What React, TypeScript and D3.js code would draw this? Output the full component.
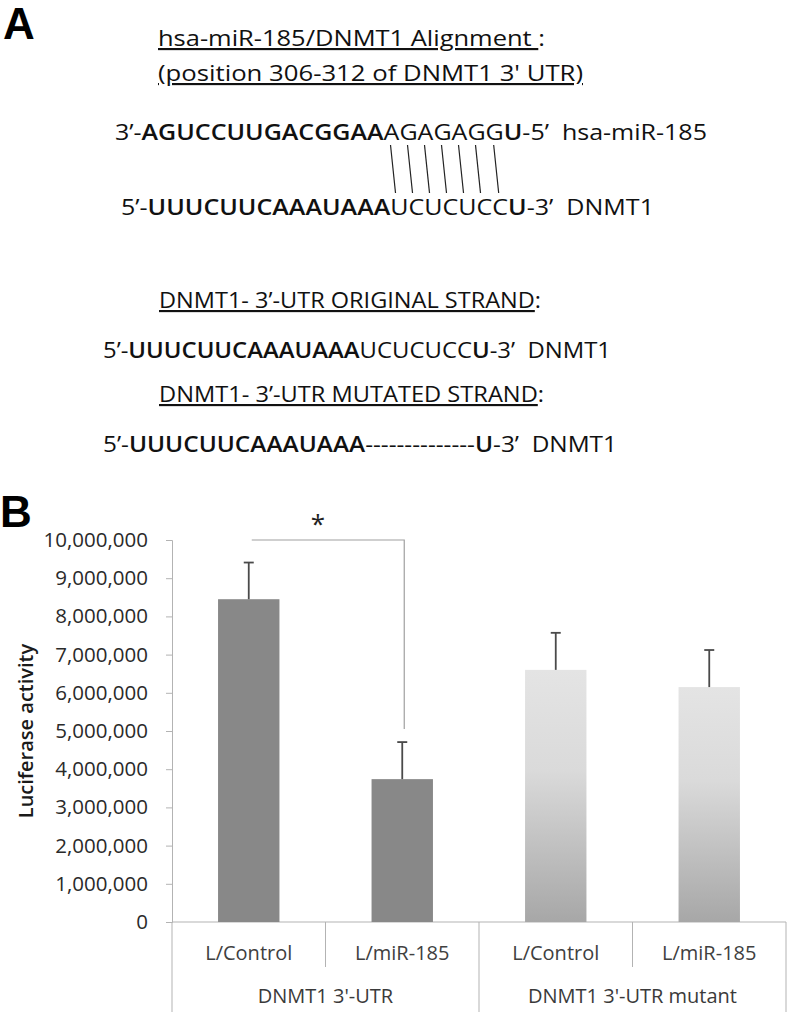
import React, { useEffect, useRef } from "react";
import * as d3 from "d3";

// ---- panel B data ----
const groups = ["DNMT1 3'-UTR", "DNMT1 3'-UTR mutant"];
const conditions = ["L/Control", "L/miR-185", "L/Control", "L/miR-185"];
const groupOf = [0, 0, 1, 1];
const means = [8450000, 3740000, 6600000, 6150000];
const errors = [960000, 970000, 970000, 970000];
const yTicks = [
  0, 1000000, 2000000, 3000000, 4000000, 5000000, 6000000, 7000000,
  8000000, 9000000, 10000000,
];

// ---- panel A text ----
type Seg = { t: string; b?: boolean; u?: boolean };
const seedText = "AGAGAGG";
const header1: Seg[] = [{ t: "hsa-miR-185/DNMT1 Alignment ", u: true }, { t: ":" }];
const header2: Seg[] = [{ t: "(position 306-312 of DNMT1 3' UTR)", u: true }];
const mirLine: Seg[] = [
  { t: "3’-" },
  { t: "AGUCCUUGACGGAA", b: true },
  { t: seedText },
  { t: "U", b: true },
  { t: "-5’  hsa-miR-185" },
];
const targetLine: Seg[] = [
  { t: "5’-" },
  { t: "UUUCUUCAAAUAAA", b: true },
  { t: "UCUCUCC" },
  { t: "U", b: true },
  { t: "-3’  DNMT1" },
];
const origHeader: Seg[] = [{ t: "DNMT1- 3’-UTR ORIGINAL STRAND", u: true }, { t: ":" }];
const mutHeader: Seg[] = [{ t: "DNMT1- 3’-UTR MUTATED STRAND", u: true }, { t: ":" }];
const mutLine: Seg[] = [
  { t: "5’-" },
  { t: "UUUCUUCAAAUAAA", b: true },
  { t: "--------------" },
  { t: "U", b: true },
  { t: "-3’  DNMT1" },
];

const App = () => {
  const svgRef = useRef<SVGSVGElement>(null);

  useEffect(() => {
    const width = 788;
    const height = 1019;
    const font = "'Open Sans', 'Noto Sans', sans-serif";

    const svg = d3
      .select(svgRef.current)
      .attr("width", width)
      .attr("height", height)
      .attr("viewBox", [0, 0, width, height].join(" "));
    svg.selectAll("*").remove();

    // panel letters
    const letter = (t: string, x: number, y: number) =>
      svg
        .append("text")
        .attr("x", x)
        .attr("y", y)
        .attr("font-family", "'Liberation Sans', Arial, sans-serif")
        .attr("font-weight", "bold")
        .attr("font-size", 44)
        .attr("fill", "#000")
        .text(t);
    letter("A", 3, 39);
    letter("B", 0, 527);

    // panel A lines
    const lines: { segs: Seg[]; x: number; y: number; len: number }[] = [
      { segs: header1, x: 158, y: 46, len: 387 },
      { segs: header2, x: 158, y: 81, len: 425 },
      { segs: mirLine, x: 115, y: 140, len: 592 },
      { segs: targetLine, x: 121, y: 215, len: 533 },
      { segs: origHeader, x: 159, y: 308, len: 382 },
      { segs: targetLine, x: 103, y: 358, len: 508 },
      { segs: mutHeader, x: 159, y: 402, len: 385 },
      { segs: mutLine, x: 103, y: 452, len: 514 },
    ];

    const textNodes = lines.map((ln) => {
      const t = svg
        .append("text")
        .attr("x", ln.x)
        .attr("y", ln.y)
        .attr("font-family", font)
        .attr("font-size", 21.5)
        .attr("fill", "#111")
        .attr("textLength", ln.len)
        .attr("lengthAdjust", "spacingAndGlyphs")
        .style("white-space", "pre");
      ln.segs.forEach((s) => {
        t.append("tspan")
          .attr("font-weight", s.b ? 600 : 400)
          .attr("text-decoration", s.u ? "underline" : null)
          .text(s.t);
      });
      return t.node() as SVGTextElement;
    });

    // pairing slashes under the seed letters
    const mirNode = textNodes[2];
    const full = mirLine.map((s) => s.t).join("");
    const seedStart = full.indexOf(seedText);
    const slashes = d3.range(seedText.length).map((i) => {
      const p = mirNode.getStartPositionOfChar(seedStart + i);
      const e = mirNode.getEndPositionOfChar(seedStart + i);
      return (p.x + e.x) / 2 - 1;
    });
    svg
      .append("g")
      .selectAll("line")
      .data(slashes)
      .join("line")
      .attr("x1", (d) => d)
      .attr("y1", 145)
      .attr("x2", (d) => d + 5)
      .attr("y2", 193)
      .attr("stroke", "#222")
      .attr("stroke-width", 1.2);

    // ---- panel B chart ----
    const marginLeft = 172;
    const right = 786;
    const top = 540;
    const base = 922;

    const x = d3
      .scaleBand<number>()
      .domain(d3.range(conditions.length))
      .range([marginLeft, right])
      .paddingInner(0.6)
      .paddingOuter(0.3);
    const y = d3.scaleLinear().domain([0, 10000000]).range([base, top]);
    const cx = (i: number) => (x(i) as number) + x.bandwidth() / 2;

    const defs = svg.append("defs");
    const grad = defs
      .append("linearGradient")
      .attr("id", "lightGrad")
      .attr("x1", 0)
      .attr("y1", 0)
      .attr("x2", 0)
      .attr("y2", 1);
    grad.append("stop").attr("offset", "0%").attr("stop-color", "#e4e4e4");
    grad.append("stop").attr("offset", "40%").attr("stop-color", "#dadada");
    grad.append("stop").attr("offset", "100%").attr("stop-color", "#a7a7a7");

    // y axis
    svg
      .append("g")
      .attr("transform", `translate(${marginLeft},0)`)
      .call(
        d3
          .axisLeft(y)
          .tickValues(yTicks)
          .tickSize(6)
          .tickPadding(18)
          .tickFormat((d) => d3.format(",")(d as number))
      )
      .call((g) => g.select(".domain").attr("stroke", "#b3b3b3"))
      .call((g) => g.selectAll(".tick line").attr("stroke", "#b3b3b3"))
      .call((g) =>
        g
          .selectAll(".tick text")
          .attr("font-family", font)
          .attr("font-size", 20.5)
          .attr("fill", "#2a2a2a")
      );

    svg
      .append("text")
      .attr("transform", `translate(33,${(642 + 820) / 2}) rotate(-90)`)
      .attr("text-anchor", "middle")
      .attr("font-family", font)
      .attr("font-size", 20)
      .attr("font-weight", 600)
      .attr("fill", "#1a1a1a")
      .text("Luciferase activity");

    // x axis with category dividers
    svg
      .append("line")
      .attr("x1", marginLeft)
      .attr("x2", right)
      .attr("y1", y(0))
      .attr("y2", y(0))
      .attr("stroke", "#b3b3b3");
    const edges = d3.range(conditions.length + 1).map((i) => marginLeft + i * x.step());
    svg
      .append("g")
      .selectAll("line")
      .data(edges)
      .join("line")
      .attr("x1", (d) => d)
      .attr("x2", (d) => d)
      .attr("y1", y(0))
      .attr("y2", (d, i) => (i % 2 === 0 ? 1012 : 967))
      .attr("stroke", "#b3b3b3");

    svg
      .append("g")
      .selectAll("text")
      .data(conditions)
      .join("text")
      .attr("x", (d, i) => cx(i))
      .attr("y", 960)
      .attr("text-anchor", "middle")
      .attr("font-family", font)
      .attr("font-size", 20)
      .attr("fill", "#404040")
      .text((d) => d);

    svg
      .append("g")
      .selectAll("text")
      .data(groups)
      .join("text")
      .attr("x", (d, gi) => marginLeft + (gi * 2 + 1) * x.step())
      .attr("y", 1003)
      .attr("text-anchor", "middle")
      .attr("font-family", font)
      .attr("font-size", 20)
      .attr("fill", "#3a3a3a")
      .text((d) => d);

    // bars
    svg
      .append("g")
      .selectAll("rect")
      .data(means)
      .join("rect")
      .attr("x", (d, i) => x(i) as number)
      .attr("y", (d) => y(d))
      .attr("width", x.bandwidth())
      .attr("height", (d) => y(0) - y(d))
      .attr("fill", (d, i) => (groupOf[i] === 0 ? "#888888" : "url(#lightGrad)"));

    // error bars (upper only)
    const eb = svg
      .append("g")
      .attr("stroke", "#4a4a4a")
      .attr("stroke-width", 1.8)
      .selectAll("g")
      .data(means)
      .join("g");
    eb.append("line")
      .attr("x1", (d, i) => cx(i))
      .attr("x2", (d, i) => cx(i))
      .attr("y1", (d) => y(d))
      .attr("y2", (d, i) => y(d + errors[i]));
    eb.append("line")
      .attr("x1", (d, i) => cx(i) - 5)
      .attr("x2", (d, i) => cx(i) + 5)
      .attr("y1", (d, i) => y(d + errors[i]))
      .attr("y2", (d, i) => y(d + errors[i]));

    // significance bracket
    const bx0 = cx(0) + 3;
    const bx1 = cx(1) + 2;
    svg
      .append("path")
      .attr("d", `M${bx0},${y(10000000)}H${bx1}V${y(means[1] + errors[1]) - 13}`)
      .attr("fill", "none")
      .attr("stroke", "#a0a0a0")
      .attr("stroke-width", 1.2);
    svg
      .append("text")
      .attr("x", (bx0 + bx1) / 2 - 10)
      .attr("y", 533)
      .attr("text-anchor", "middle")
      .attr("font-family", font)
      .attr("font-size", 26)
      .attr("fill", "#222")
      .text("*");
  }, []);

  return (
    <svg
      ref={svgRef}
      style={{ position: "absolute", left: 0, top: 0, background: "#fff" }}
    />
  );
};

export default App;
